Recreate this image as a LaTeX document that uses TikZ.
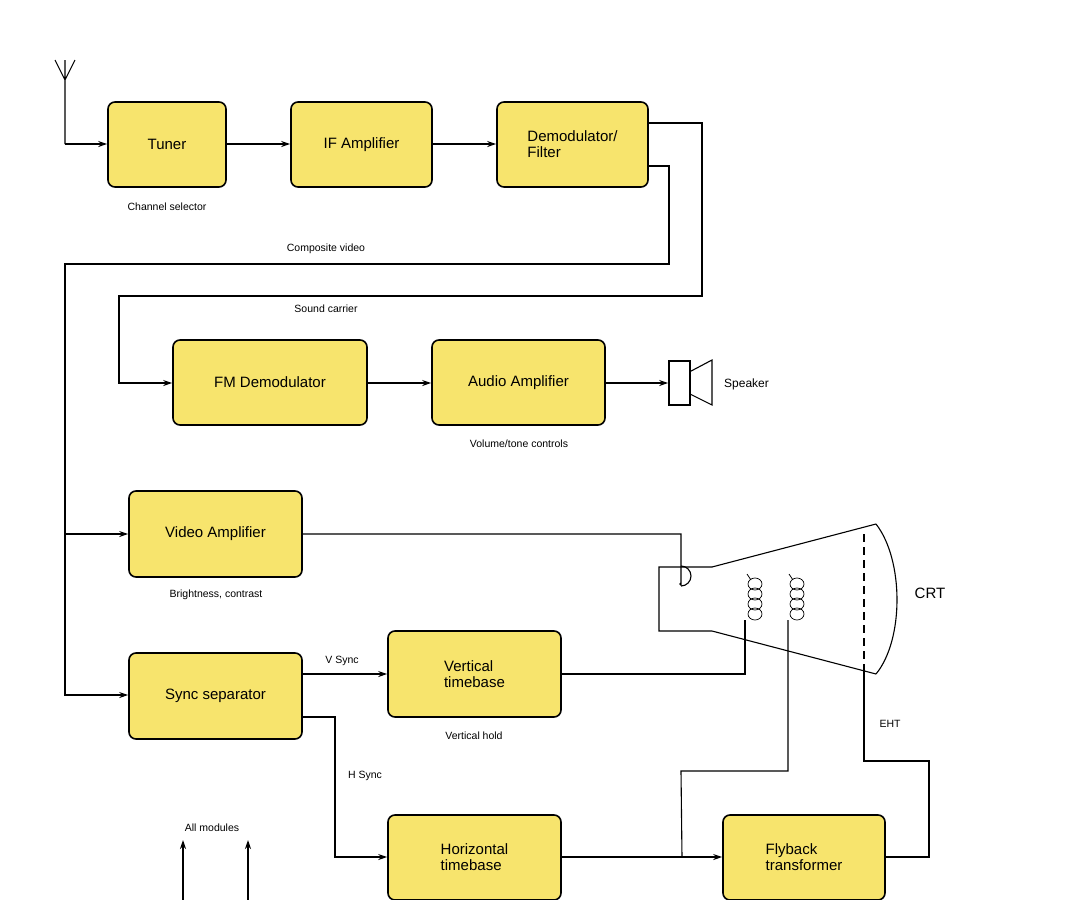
\documentclass[tikz,border=0pt]{standalone}
\usepackage{fontspec}
\setmainfont{Liberation Sans}
\usetikzlibrary{arrows.meta}
\begin{document}
\begin{tikzpicture}[x=1pt,y=-1pt,
 blk/.style={draw,line width=1.6pt,rounded corners=7pt,fill=yellow!55!orange!40!yellow,fill=blkfill,align=left,font=\fontsize{15}{16}\selectfont},
 lbl/.style={font=\fontsize{10.5}{12}\selectfont,inner sep=0},
 wire/.style={line width=1.1pt},
 arr/.style={wire,-{Stealth[length=9pt,width=6pt]}}]
\definecolor{blkfill}{HTML}{F7E46D}
\useasboundingbox (0,0) rectangle (1080,900);
\newcommand{\blkat}[6]{\node[blk,minimum width=#4-#2,minimum height=#5-#3] (#1) at ({(#2+#4)/2},{(#3+#5)/2}) {#6};}
\blkat{tuner}{108}{102}{226}{187}{Tuner}
\blkat{ifa}{291}{102}{432}{187}{IF Amplifier}
\blkat{dem}{497}{102}{648}{187}{Demodulator/\\Filter}
\blkat{fm}{173}{340}{367}{425}{FM Demodulator}
\blkat{aud}{432}{340}{605}{425}{Audio Amplifier}
\blkat{vid}{129}{491}{302}{577}{Video Amplifier}
\blkat{sync}{129}{653}{302}{739}{Sync separator}
\blkat{vt}{388}{631}{561}{717}{Vertical\\timebase}
\blkat{ht}{388}{815}{561}{900}{Horizontal\\timebase}
\blkat{fb}{723}{815}{885}{900}{Flyback\\transformer}
% antenna
\coordinate (ant) at (65,60);
\draw[wire] (55,60) -- (65,80) -- (75,60) (ant) -- (65,144);
\draw[arr] (65,144) -- (tuner.west |- 0,144);
\draw[arr] (tuner.east |- 0,144) -- (ifa.west |- 0,144);
\draw[arr] (ifa.east |- 0,144) -- (dem.west |- 0,144);
% sound carrier
\draw[arr] (dem.east |- 0,123) -- (702,123) -- (702,296) -- (119,296) -- (119,383) -- (fm.west |- 0,383);
\node[lbl] at (326,309) {Sound carrier};
% composite
\draw[arr] (dem.east |- 0,166) -- (669,166) -- (669,264) -- (65,264) -- (65,695) -- (sync.west |- 0,695);
\draw[arr] (65,534) -- (vid.west |- 0,534);
\node[lbl] at (326,249) {Composite video};
\draw[arr] (fm.east |- 0,383) -- (aud.west |- 0,383);
% speaker
\node[draw,line width=1.6pt,minimum width=21pt,minimum height=44pt,inner sep=0] (spk) at (679.5,383) {};
\draw[arr] (aud.east |- 0,383) -- (spk.west);
\draw[wire] (spk.north east) ++(0,11) -- (712,360) -- (712,405) -- (690,394);
\node[lbl,font=\fontsize{12}{14}\selectfont,anchor=west] at (724,384) {Speaker};
% labels under boxes
\node[lbl] at (167,207) {Channel selector};
\node[lbl] at (519,444) {Volume/tone controls};
\node[lbl] at (216,595) {Brightness, contrast};
\node[lbl] at (474,736) {Vertical hold};
% CRT
\draw[wire] (712,567) -- (659,567) -- (659,631) -- (712,631) -- (876,674);
\draw[wire] (712,567) -- (876,524);
\draw[wire] (876,524) .. controls (904,560) and (904,640) .. (876,674);
\draw[wire,dashed,dash pattern=on 8pt off 5pt] (864,534) -- (864,664);
\node[lbl,font=\fontsize{15}{16}\selectfont] at (930,593) {CRT};
\draw[wire] (vid.east |- 0,534) -- (681,534) -- (681,585) arc (-90:90:-1) ;
\draw[wire] (681,586) arc (90:-90:10);
\foreach \cx in {755,797}{
 \foreach \cy in {584,594,604,614}{\draw[line width=0.7pt] (\cx,\cy) ellipse (7 and 6);}
 \draw[line width=0.7pt] (\cx-8,574) -- (\cx-4,580);
}
% vertical timebase
\draw[arr] (sync.east |- 0,674) -- (vt.west |- 0,674);
\node[lbl] at (342,661) {V Sync};
\draw[wire] (vt.east |- 0,674) -- (745,674) -- (745,620);
% horizontal
\draw[arr] (sync.east |- 0,717) -- (335,717) -- (335,857) -- (ht.west |- 0,857);
\node[lbl] at (365,776) {H Sync};
\draw[arr] (ht.east |- 0,857) -- (fb.west |- 0,857);
\draw[wire] (788,620) -- (788,771) -- (681,771) -- (682,857);
\draw[wire] (864,664) -- (864,761) -- (929,761) -- (929,857) -- (fb.east |- 0,857);
\node[lbl] at (890,724) {EHT};
% all modules
\node[lbl] (allm) at (212,828) {All modules};
\coordinate (a1) at (183,900); \coordinate (a2) at (248,900);
\draw[arr] (a1) -- (183,840);
\draw[arr] (a2) -- (248,840);
\end{tikzpicture}
\end{document}
